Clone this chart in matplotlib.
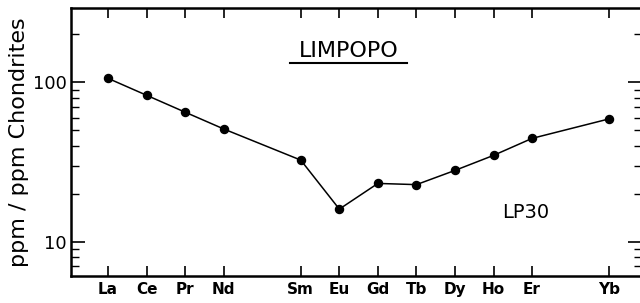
import numpy as np
import matplotlib
matplotlib.use("Agg")
import matplotlib.pyplot as plt
from matplotlib.ticker import LogLocator, NullFormatter, FixedLocator

# REE pattern, chondrite-normalised (sample LP30, Limpopo)
elementos = ["La", "Ce", "Pr", "Nd", "Sm", "Eu", "Gd", "Tb", "Dy", "Ho", "Er", "Yb"]
posicao = [0, 1, 2, 3, 5, 6, 7, 8, 9, 10, 11, 13]   # Pm e Tm ausentes
valores = [106, 83, 65, 51, 32.5, 16.0, 23.2, 22.8, 28.0, 34.8, 44.5, 59.0]

plt.rcParams["font.family"] = ["DejaVu Sans"]

fig = plt.figure(figsize=(6.4, 3.03), dpi=100)
ax = fig.add_axes([0.111, 0.089, 0.892, 0.886])

ax.plot(posicao, valores, "o-", color="black", lw=1.1, ms=5.8)

ax.set_yscale("log")
ax.set_ylim(6.08, 295)
ax.set_xlim(-0.96, 13.85)

ax.xaxis.set_major_locator(FixedLocator(posicao))
ax.set_xticklabels(elementos, fontsize=11, fontweight="bold")
ax.tick_params(axis="x", which="both", direction="in", top=True, bottom=True,
               length=7, width=1.2, pad=4)

ax.yaxis.set_minor_locator(LogLocator(base=10, subs=np.arange(2, 10), numticks=20))
ax.yaxis.set_minor_formatter(NullFormatter())
ax.set_yticks([10, 100])
ax.set_yticklabels(["10", "100"], fontsize=13)
ax.tick_params(axis="y", which="major", direction="in", left=True, right=True,
               length=10, width=1.2, pad=3)
ax.tick_params(axis="y", which="minor", direction="in", left=True, right=True,
               length=6, width=1.0)

for s in ["left", "top", "bottom"]:
    ax.spines[s].set_linewidth(1.8)
ax.spines["right"].set_visible(False)

ax.set_ylabel("ppm / ppm Chondrites", fontsize=16, labelpad=3)

ax.text(0.486, 0.838, "LIMPOPO", transform=ax.transAxes, ha="center",
        va="center", fontsize=16)
ax.plot([0.384, 0.589], [0.793, 0.793], transform=ax.transAxes, color="black",
        lw=1.5, clip_on=False)
ax.text(0.797, 0.236, "LP30", transform=ax.transAxes, ha="center",
        va="center", fontsize=14)

fig.savefig("out.png", dpi=100)
